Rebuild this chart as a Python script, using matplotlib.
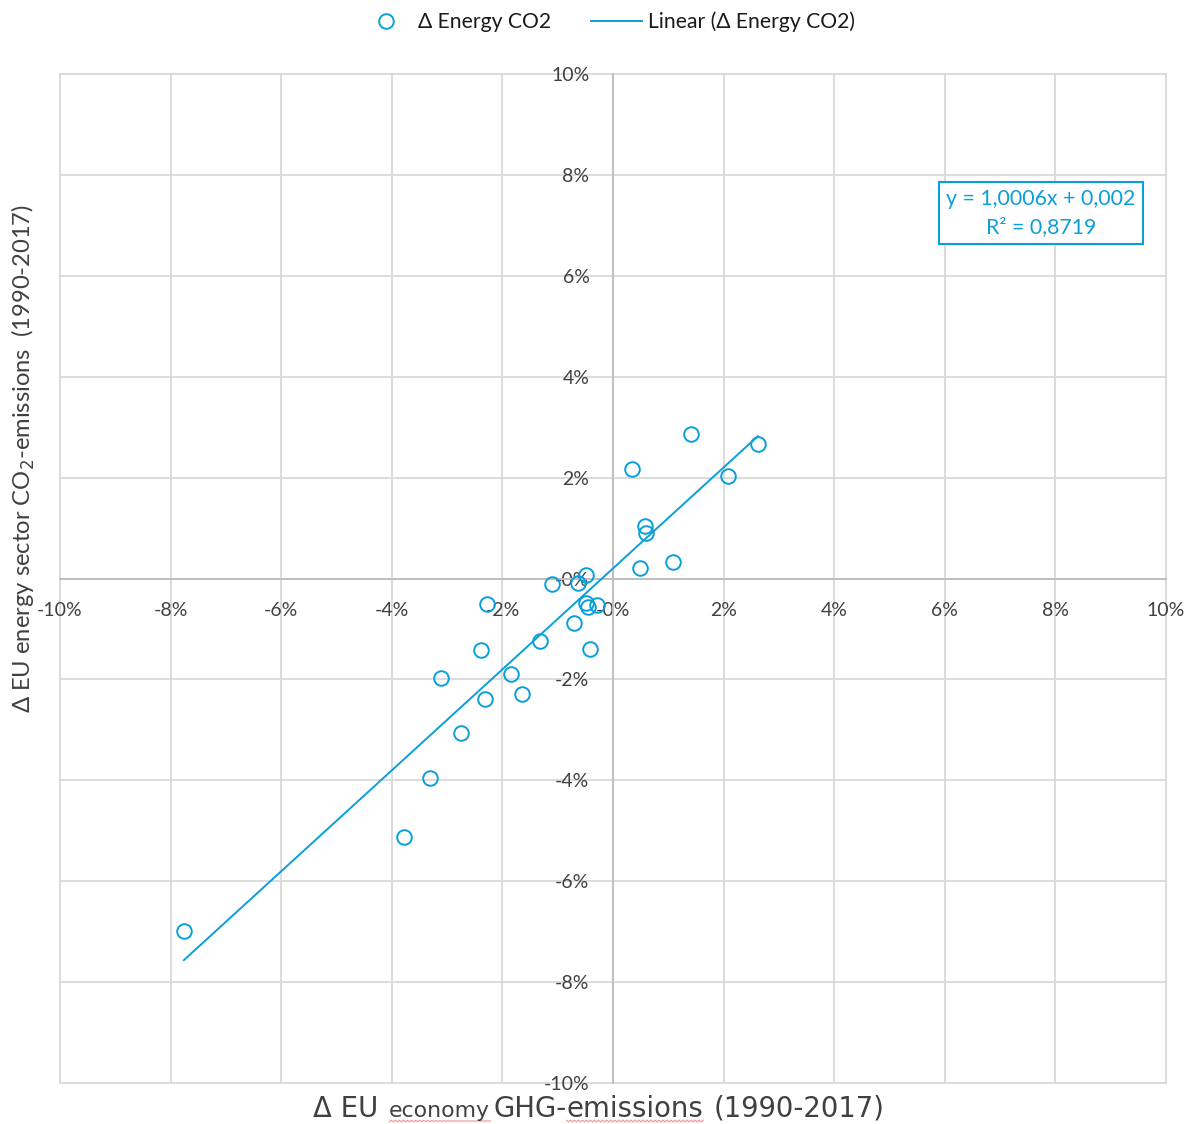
import matplotlib
matplotlib.use("Agg")
import matplotlib.pyplot as plt
from matplotlib.ticker import FuncFormatter, MultipleLocator
from matplotlib.lines import Line2D
import numpy as np

# Annual change of EU economy-wide GHG emissions vs energy-sector CO2 emissions (%)
ghg_change = [-7.76, -3.78, -3.31, -3.11, -2.75, -2.39, -2.31, -2.28, -1.84,
              -1.65, -1.32, -1.10, -0.71, -0.63, -0.49, -0.49, -0.45, -0.29,
              -0.42, 0.34, 0.49, 0.58, 0.60, 1.08, 1.41, 2.08, 2.62]
energy_co2_change = [-6.98, -5.13, -3.96, -1.98, -3.07, -1.41, -2.38, -0.50, -1.90,
                     -2.28, -1.23, -0.10, -0.89, -0.08, 0.06, -0.48, -0.57, -0.52,
                     -1.39, 2.18, 0.20, 1.05, 0.91, 0.32, 2.87, 2.04, 2.66]

# Linear trendline coefficients
slope = 1.0006
intercept = 0.002
r_squared = 0.8719

BLUE = "#0a9fd9"
TEXT = "#404040"
plt.rcParams["font.family"] = ["Lato", "DejaVu Sans"]

W, H = 1192, 1124
fig = plt.figure(figsize=(W / 100, H / 100), dpi=100)
ax = fig.add_axes([60 / W, (H - 1083) / H, 1106 / W, 1009 / H])

x = np.array(ghg_change) / 100
y = np.array(energy_co2_change) / 100

ax.set_xlim(-0.10, 0.10)
ax.set_ylim(-0.10, 0.10)
ax.xaxis.set_major_locator(MultipleLocator(0.02))
ax.yaxis.set_major_locator(MultipleLocator(0.02))
pct = FuncFormatter(lambda v, _: f"{v * 100:.0f}%")
ax.xaxis.set_major_formatter(pct)
ax.yaxis.set_major_formatter(pct)

ax.grid(True, color="#d9d9d9", lw=1.3, zorder=0)
ax.set_axisbelow(True)
for s in ("top", "right"):
    ax.spines[s].set_visible(False)
for s in ("left", "bottom"):
    ax.spines[s].set_position(("data", 0))
    ax.spines[s].set_color("#bfbfbf")
    ax.spines[s].set_linewidth(1.4)
ax.tick_params(length=0, labelsize=14, labelcolor=TEXT)
ax.tick_params(axis="x", pad=17)
ax.tick_params(axis="y", pad=17)

# scatter points
ax.plot(x, y, ls="none", marker="o", ms=10.5, mfc="none", mec=BLUE, mew=1.4,
        zorder=3, clip_on=False)

# trendline over the data range
xl = np.array([x.min(), x.max()])
ax.plot(xl, slope * xl + intercept, color=BLUE, lw=1.4, zorder=3)

fig.canvas.draw()
for gl in ax.get_xgridlines() + ax.get_ygridlines():
    gl.set_clip_on(False)

# legend
handles = [Line2D([], [], ls="none", marker="o", ms=10.5, mfc="none", mec=BLUE, mew=1.4),
           Line2D([], [], color=BLUE, lw=1.4)]
fig.legend(handles, ["Δ Energy CO2", "Linear (Δ Energy CO2)"], loc="center",
           bbox_to_anchor=(608 / W, 1 - 22 / H), ncol=2, frameon=False,
           fontsize=15.2, handlelength=2.4, columnspacing=1.9, handletextpad=0.3,
           labelcolor="#1a1a1a")

# equation box
eq = f"y = {slope:.4f}x + {intercept:.3f}".replace(".", ",")
r2 = f"R² = {r_squared:.4f}".replace(".", ",")
fig.text(1041 / W, 1 - 213 / H, eq + "\n" + r2, ha="center", va="center",
         multialignment="center", color=BLUE, fontsize=15.3, linespacing=1.5,
         family=["Open Sans", "DejaVu Sans"] if False else ["Lato", "DejaVu Sans"],
         bbox=dict(boxstyle="square,pad=0.33", fc="white", ec=BLUE, lw=1.5))

# y axis title
fig.text(23 / W, 1 - 458 / H, "Δ EU energy sector CO$_2$-emissions  (1990-2017)",
         rotation=90, ha="center", va="center", fontsize=17.1, color=TEXT)

# x axis title assembled from pieces of different sizes
renderer = fig.canvas.get_renderer()
pieces = [("Δ EU", 19.8, False, 0), ("economy", 15.8, True, 11),
          ("GHG-", 19.8, False, 3), ("emissions", 19.8, True, 0),
          ("(1990-2017)", 19.8, False, 10)]
px = 313
base_px = 1117
for text, size, underline, gap in pieces:
    px += gap
    t = fig.text(px / W, 1 - base_px / H, text, fontsize=size, family="DejaVu Sans",
                 color=TEXT, va="baseline", ha="left")
    bb = t.get_window_extent(renderer)
    if underline:
        ux = np.linspace(px, px + bb.width, int(bb.width / 2) + 1)
        uy = base_px + 4 + 1.0 * np.sin(ux * np.pi / 2.0)
        fig.add_artist(Line2D(ux / W, 1 - uy / H, color="#f08080", lw=0.8, alpha=0.85))
    px += bb.width

fig.savefig("out.png", dpi=100)
